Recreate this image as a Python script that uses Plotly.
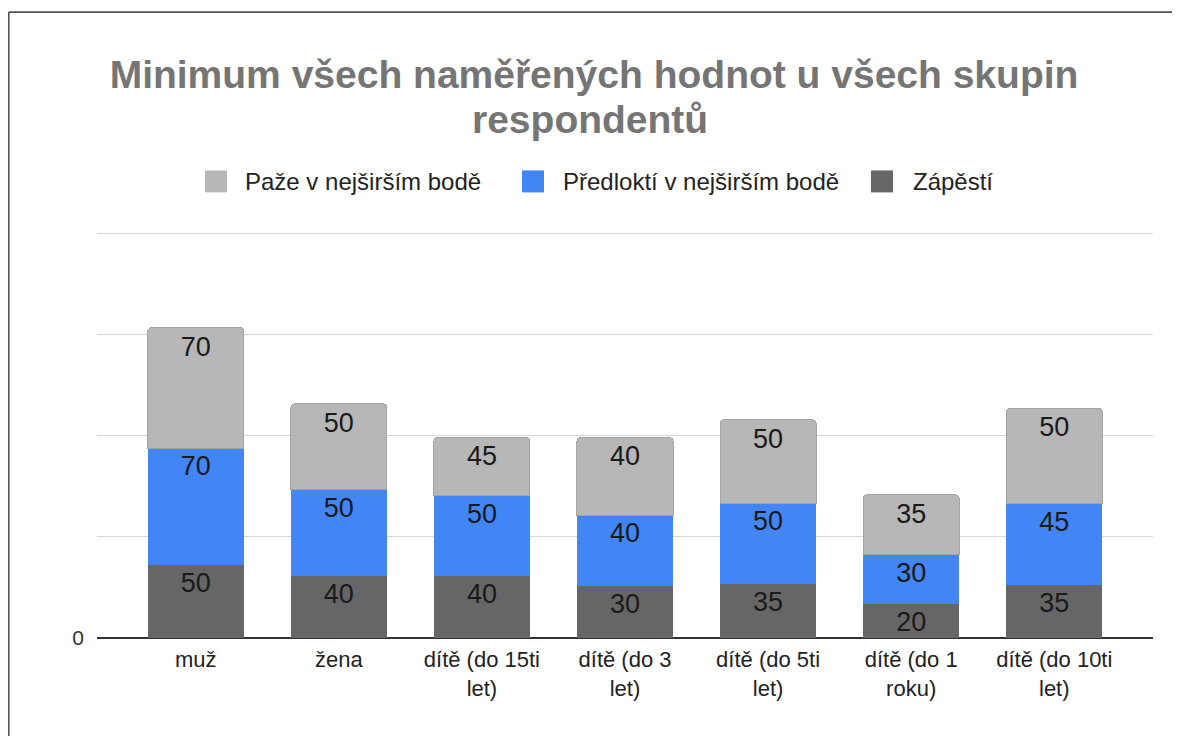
import plotly.graph_objects as go

categories = ["muž", "žena", "dítě (do 15ti<br>let)", "dítě (do 3<br>let)",
              "dítě (do 5ti<br>let)", "dítě (do 1<br>roku)", "dítě (do 10ti<br>let)"]

series_names = ["Paže v nejširším bodě", "Předloktí v nejširším bodě", "Zápěstí"]

# bar heights
zapesti = [43.4, 36.5, 36.5, 31.0, 32.0, 20.1, 31.6]
predlokti = [69.2, 51.4, 47.8, 41.9, 47.8, 29.4, 48.0]
paze = [71.5, 51.0, 34.8, 46.2, 49.6, 35.4, 56.7]

# data labels as printed on the bars
zapesti_labels = ["50", "40", "40", "30", "35", "20", "35"]
predlokti_labels = ["70", "50", "50", "40", "50", "30", "45"]
paze_labels = ["70", "50", "45", "40", "50", "35", "50"]

y_ticks = [0, 60, 120, 180, 240]
y_ticktext = ["0", "", "", "", ""]
Y_MAX = 242

colors = {"paze": "#b7b7b7", "predlokti": "#4285f4", "zapesti": "#666666"}

PAGE_W, PAGE_H = 1180, 736
OFF = 8  # default body margin of the page
W, H = PAGE_W - OFF, PAGE_H - OFF
# plot area in page pixels (value 240 sits at y=233, 0 at y=638)
L, R, B = 97, 1153, 638
T = B - Y_MAX * (638 - 233) / 240


def px_x(x):
    return (x - L) / (R - L)


def px_y(y):
    return (B - y) / (B - T)


FONT = "Arial, 'Liberation Sans', sans-serif"
lbl_font = dict(family=FONT, size=27, color="#1a1a1a")

fig = go.Figure()
fig.add_trace(go.Bar(x=categories, y=zapesti, name=series_names[2], text=zapesti_labels,
                     marker=dict(color=colors["zapesti"], line=dict(width=0)),
                     textposition="inside", insidetextanchor="end", textfont=lbl_font,
                     constraintext="none", showlegend=False))
fig.add_trace(go.Bar(x=categories, y=predlokti, name=series_names[1], text=predlokti_labels,
                     marker=dict(color=colors["predlokti"], line=dict(width=0)),
                     textposition="inside", insidetextanchor="end", textfont=lbl_font,
                     constraintext="none", showlegend=False))
fig.add_trace(go.Bar(x=categories, y=paze, name=series_names[0], text=paze_labels,
                     marker=dict(color=colors["paze"], line=dict(width=1, color="#a3a3a3")),
                     textposition="inside", insidetextanchor="end", textfont=lbl_font,
                     constraintext="none", showlegend=False))

# custom legend (large swatches as in the reference)
legend_items = [
    (series_names[0], colors["paze"], 205, 243),
    (series_names[1], colors["predlokti"], 522, 561),
    (series_names[2], colors["zapesti"], 871, 911),
]
shapes = []
annotations = []
for name, col, sx, tx in legend_items:
    shapes.append(dict(type="rect", xref="paper", yref="paper",
                       x0=px_x(sx), x1=px_x(sx + 22), y0=px_y(192), y1=px_y(170),
                       fillcolor=col, line=dict(width=0), layer="above"))
    annotations.append(dict(text=name, xref="paper", yref="paper", x=px_x(tx), y=px_y(181),
                            xanchor="left", yanchor="middle", showarrow=False,
                            font=dict(family=FONT, size=24, color="#222222")))

TITLE_SIZE = 39
# second title line
annotations.append(dict(text="respondentů", xref="paper", yref="paper",
                        x=px_x(590), y=px_y(119.5), xanchor="center", yanchor="middle",
                        showarrow=False,
                        font=dict(family=FONT, size=TITLE_SIZE, color="#757575", weight="bold")))

# outer frame lines (left and top)
shapes.append(dict(type="line", xref="paper", yref="paper", x0=px_x(8.8), x1=px_x(1185),
                   y0=px_y(11.5), y1=px_y(11.5), line=dict(color="#555555", width=1.6)))
shapes.append(dict(type="line", xref="paper", yref="paper", x0=px_x(8.8), x1=px_x(8.8),
                   y0=px_y(11.5), y1=px_y(740), line=dict(color="#555555", width=1.6)))

fig.update_layout(
    width=W, height=H,
    margin=dict(l=L - OFF, r=PAGE_W - R, t=T - OFF, b=PAGE_H - B),
    paper_bgcolor="white", plot_bgcolor="white",
    barmode="stack", bargap=0.329, barcornerradius=4,
    uniformtext=dict(minsize=27, mode="show"),
    title=dict(text="Minimum všech naměřených hodnot u všech skupin",
               x=0.5, xref="container", xanchor="center",
               y=1 - (74.5 - OFF) / H, yref="container", yanchor="middle",
               font=dict(family=FONT, size=TITLE_SIZE, color="#757575", weight="bold")),
    xaxis=dict(range=[-0.69, 6.69], showgrid=False, showline=False, zeroline=False,
               ticks="", tickfont=dict(family=FONT, size=22, color="#222222"),
               ticklabelstandoff=6),
    yaxis=dict(range=[0, Y_MAX], tickvals=y_ticks, ticktext=y_ticktext,
               showgrid=True, gridcolor="#d6d6d6", gridwidth=1.3,
               zeroline=True, zerolinecolor="#333333", zerolinewidth=2,
               showline=False, ticks="",
               tickfont=dict(family=FONT, size=21, color="#333333"),
               ticklabelstandoff=12),
    shapes=shapes,
    annotations=annotations,
    showlegend=False,
)

fig.write_html("out.html")
